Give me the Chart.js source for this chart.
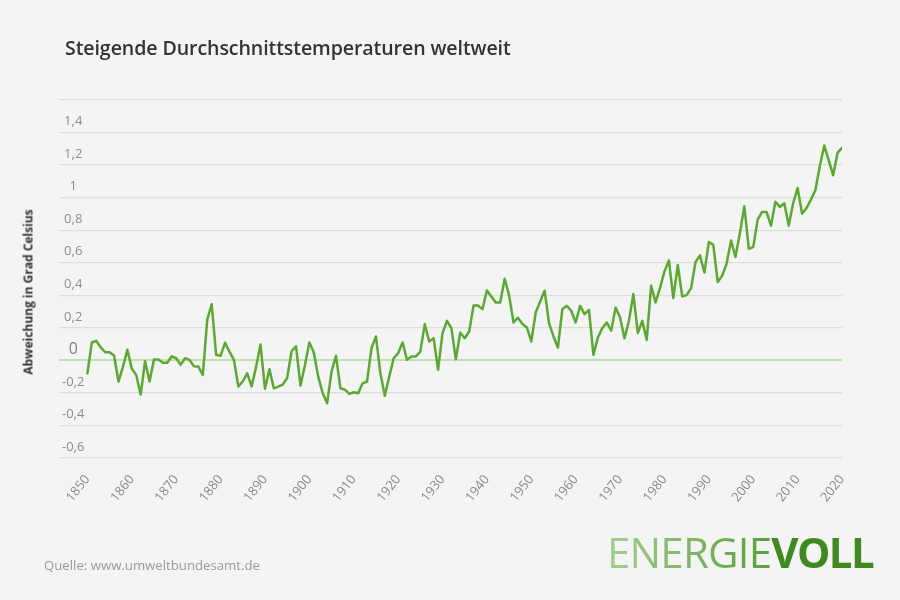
<!DOCTYPE html>
<html><head><meta charset="utf-8">
<script src="https://cdn.jsdelivr.net/npm/chart.js@4"></script>
<style>
html,body{margin:0;padding:0;background:#f4f4f4;}
#wrap{position:relative;width:900px;height:600px;overflow:hidden;background:#f4f4f4;font-family:"Open Sans",sans-serif;}
canvas{position:absolute;left:0;top:0;}
#title{position:absolute;left:65px;top:34px;font-size:19.6px;font-weight:600;color:#333;white-space:nowrap;line-height:28px;letter-spacing:-0.1px;}
#ytitle{position:absolute;left:28px;top:292px;transform:translate(-50%,-50%) rotate(-90deg);font-size:12px;font-weight:700;color:#333;white-space:nowrap;}
#source{position:absolute;left:44px;top:555px;font-size:13.2px;color:#9a9a9a;white-space:nowrap;line-height:20px;}
#logo{position:absolute;left:607px;top:524px;font-size:42px;line-height:56px;white-space:nowrap;}
#logo .a{font-weight:500;letter-spacing:-0.8px;background:linear-gradient(90deg,#a4cd92 0%,#5aa03a 100%);-webkit-background-clip:text;background-clip:text;color:transparent;}
#logo .b{font-weight:700;letter-spacing:-1.6px;color:#3e8a20;}
</style></head>
<body><div id="wrap">
<canvas id="c" width="900" height="600"></canvas>
<div id="title">Steigende Durchschnittstemperaturen weltweit</div>
<div id="ytitle">Abweichung in Grad Celsius</div>
<div id="source">Quelle: www.umweltbundesamt.de</div>
<div id="logo"><span class="a">ENERGIE</span><span class="b">VOLL</span></div>
</div>
<script>
const firstYear = 1850;
const temps = [
 -0.08, 0.11, 0.12, 0.08, 0.05, 0.05, 0.03, -0.13, -0.04, 0.065,
 -0.05, -0.09, -0.21, -0.005, -0.13, 0.005, 0.005, -0.015, -0.015, 0.025,
 0.013, -0.028, 0.013, 0.003, -0.036, -0.038, -0.09, 0.25, 0.345, 0.034,
 0.028, 0.108, 0.054, 0.003, -0.16, -0.13, -0.08, -0.16, -0.04, 0.097,
 -0.174, -0.054, -0.172, -0.161, -0.149, -0.108, 0.056, 0.087, -0.155, -0.03,
 0.11, 0.048, -0.1, -0.2, -0.264, -0.069, 0.028, -0.171, -0.18, -0.206,
 -0.196, -0.202, -0.141, -0.13, 0.075, 0.147, -0.079, -0.218, -0.1, 0.013,
 0.044, 0.11, 0.003, 0.024, 0.024, 0.054, 0.223, 0.116, 0.136, -0.058,
 0.167, 0.243, 0.198, 0.007, 0.171, 0.136, 0.177, 0.337, 0.337, 0.315,
 0.43, 0.393, 0.356, 0.356, 0.502, 0.40, 0.233, 0.262, 0.223, 0.202,
 0.116, 0.294, 0.362, 0.428, 0.229, 0.147, 0.079, 0.315, 0.335, 0.305,
 0.233, 0.335, 0.284, 0.31, 0.034, 0.141, 0.198, 0.233, 0.182, 0.325,
 0.264, 0.136, 0.243, 0.407, 0.167, 0.243, 0.126, 0.458, 0.356, 0.444,
 0.547, 0.614, 0.383, 0.586, 0.393, 0.401, 0.444, 0.604, 0.645, 0.54,
 0.727, 0.711, 0.481, 0.52, 0.594, 0.737, 0.635, 0.783, 0.947, 0.686,
 0.696, 0.865, 0.912, 0.912, 0.828, 0.975, 0.943, 0.965, 0.828, 0.967,
 1.059, 0.901, 0.936, 0.988, 1.045, 1.193, 1.32, 1.23, 1.138, 1.275,
 1.306
];
const years = temps.map((v, i) => firstYear + i);
const xTicks = [1850,1860,1870,1880,1890,1900,1910,1920,1930,1940,1950,1960,1970,1980,1990,2000,2010,2020];
const yTicks = [-0.6,-0.4,-0.2,0,0.2,0.4,0.6,0.8,1,1.2,1.4,1.6];

new Chart(document.getElementById('c'), {
  type: 'line',
  data: { datasets: [{
    data: years.map((y, i) => ({ x: y, y: temps[i] })),
    borderColor: '#5ba832', borderWidth: 2.5, pointRadius: 0, tension: 0, fill: false,
    borderJoinStyle: 'round', borderCapStyle: 'round'
  }]},
  options: {
    responsive: false, animation: false,
    layout: { padding: { left: 59, right: 58, top: 100, bottom: 0 } },
    plugins: { legend: { display: false }, tooltip: { enabled: false } },
    scales: {
      x: {
        type: 'linear', min: 1843.6, max: 2020,
        afterBuildTicks(s) { s.ticks = xTicks.map(v => ({ value: v })); },
        afterFit(s) { s.height = 142; },
        grid: { display: false }, border: { display: false },
        ticks: { color: '#8c8c8c', font: { family: 'Open Sans', size: 13 }, minRotation: 52, maxRotation: 52,
                 padding: 6, autoSkip: false, callback: v => String(v) }
      },
      y: {
        min: -0.6, max: 1.6,
        afterBuildTicks(s) { s.ticks = yTicks.map(v => ({ value: v })); },
        afterFit(s) { s.width = 0; },
        border: { display: false },
        grid: { drawTicks: false,
                color: c => (c.tick && c.tick.value === 0) ? '#c2e0b2' : '#dddddd',
                lineWidth: c => (c.tick && c.tick.value === 0) ? 2 : 1.2 },
        ticks: { mirror: true, crossAlign: 'center', padding: 3, labelOffset: -11,
                 color: c => (c.tick && c.tick.value === 0) ? '#808080' : '#8c8c8c',
                 font: c => ({ family: 'Open Sans', size: (c.tick && c.tick.value === 0) ? 16 : 13 }),
                 callback: v => v === 1.6 ? '' : String(Math.round(v * 10) / 10).replace('.', ',') }
      }
    }
  }
});
</script>
</body></html>
